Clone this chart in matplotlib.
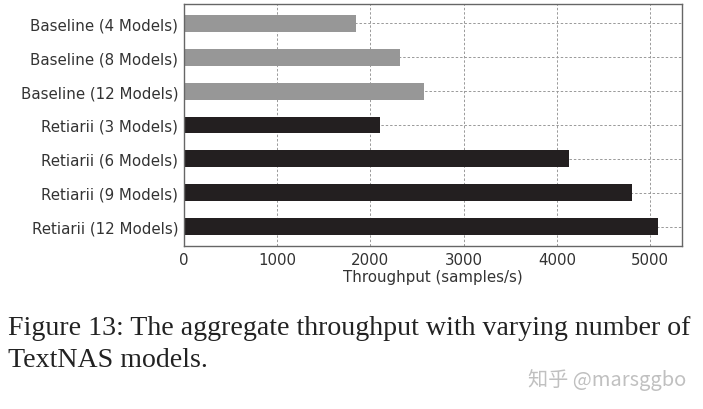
import numpy as np
import matplotlib.pyplot as plt

plt.rcParams['font.family'] = ['DejaVu Sans']

labels = ['Baseline (4 Models)', 'Baseline (8 Models)', 'Baseline (12 Models)',
          'Retiarii (3 Models)', 'Retiarii (6 Models)', 'Retiarii (9 Models)',
          'Retiarii (12 Models)']
throughput = [1843, 2322, 2576, 2107, 4126, 4808, 5084]
is_baseline = [True, True, True, False, False, False, False]

caption_1 = 'Figure 13: The aggregate throughput with varying number of'
caption_2 = 'TextNAS models.'
watermark = '知乎 @marsggbo'

fig = plt.figure(figsize=(7.03, 4.10), dpi=100)
ax = fig.add_axes([0.2613, 0.3976, 0.7087, 0.5902])

colors = ['#979797' if b else '#231f20' for b in is_baseline]
y = np.arange(len(labels))
ax.barh(y, throughput, height=0.5, color=colors, zorder=2)
ax.invert_yaxis()
ax.set_yticks(y)
ax.set_yticklabels(labels, fontsize=10.8, color='#333333')
ax.set_xlim(0, 5340)
ax.set_xticks([0, 1000, 2000, 3000, 4000, 5000])
ax.tick_params(axis='x', labelsize=10.8, labelcolor='#333333', length=0, pad=4)
ax.tick_params(axis='y', length=0, pad=4)
ax.set_xlabel('Throughput (samples/s)', fontsize=10.8, color='#333333', labelpad=2)

ax.set_axisbelow(True)
ax.grid(True, linestyle=(0, (2.5, 2)), color='#999999', linewidth=0.7)
for s in ax.spines.values():
    s.set_color('#666666')
    s.set_linewidth(1.0)

fig.text(8 / 703, 1 - 335 / 410, caption_1, family='Liberation Serif',
         fontsize=20.1, color='#222222', va='baseline')
fig.text(8 / 703, 1 - 367 / 410, caption_2, family='Liberation Serif',
         fontsize=20.1, color='#222222', va='baseline')
fig.text(686 / 703, 1 - 380 / 410, watermark,
         family=['Noto Sans CJK SC', 'DejaVu Sans'], fontsize=14.5,
         color='#c0c0c0', ha='right', va='center')

fig.savefig('out.png', dpi=100)
